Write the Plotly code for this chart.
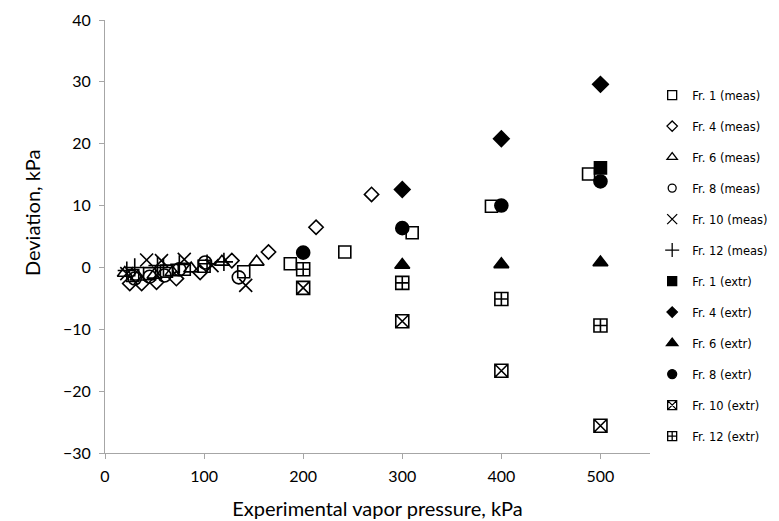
import plotly.graph_objects as go

# ---- data ----
fr1_meas_x = [28, 45, 62, 80, 100, 140, 187, 242, 310, 390, 488]
fr1_meas_y = [-1.3, -1.0, -0.6, -0.3, 0.2, -0.7, 0.6, 2.5, 5.6, 9.9, 15.1]
fr4_meas_x = [25, 37, 52, 72, 96, 128, 165, 213, 269]
fr4_meas_y = [-2.6, -2.6, -2.4, -1.8, -0.8, 1.1, 2.5, 6.5, 11.8]
fr6_meas_x = [20, 33, 50, 68, 87, 118, 153]
fr6_meas_y = [-0.9, -1.5, -1.2, -0.8, -0.2, 0.9, 0.9]
fr8_meas_x = [30, 45, 60, 75, 101, 135]
fr8_meas_y = [-1.8, -1.5, -1.3, -0.3, 0.8, -1.6]
fr10_meas_x = [22, 42, 57, 80, 108, 142]
fr10_meas_y = [-1.0, 1.2, 1.1, 1.3, 0.3, -2.9]
fr12_meas_x = [22, 30, 53, 59, 75, 103, 120]
fr12_meas_y = [-0.5, 0.0, 0.3, 0.0, 0.5, 0.6, 0.9]

fr1_extr_x = [500]
fr1_extr_y = [16.1]
fr4_extr_x = [300, 400, 500]
fr4_extr_y = [12.6, 20.8, 29.6]
fr6_extr_x = [300, 400, 500]
fr6_extr_y = [0.4, 0.5, 0.8]
fr8_extr_x = [200, 300, 400, 500]
fr8_extr_y = [2.4, 6.35, 10.0, 13.9]
fr10_extr_x = [200, 300, 400, 500]
fr10_extr_y = [-3.3, -8.7, -16.7, -25.6]
fr12_extr_x = [200, 300, 400, 500]
fr12_extr_y = [-0.3, -2.5, -5.1, -9.4]

names = ["Fr. 1 (meas)", "Fr. 4 (meas)", "Fr. 6 (meas)", "Fr. 8 (meas)",
         "Fr. 10 (meas)", "Fr. 12 (meas)", "Fr. 1 (extr)", "Fr. 4 (extr)",
         "Fr. 6 (extr)", "Fr. 8 (extr)", "Fr. 10 (extr)", "Fr. 12 (extr)"]

series = [
    (fr1_meas_x, fr1_meas_y, "square-open", 12, 9),
    (fr4_meas_x, fr4_meas_y, "diamond-open", 11, 8),
    (fr6_meas_x, fr6_meas_y, "triangle-up-open", 13, 9),
    (fr8_meas_x, fr8_meas_y, "circle-open", 13, 8),
    (fr10_meas_x, fr10_meas_y, "x-thin-open", 13, 10),
    (fr12_meas_x, fr12_meas_y, "cross-thin-open", 13, 10),
    (fr1_extr_x, fr1_extr_y, "square", 12, 9),
    (fr4_extr_x, fr4_extr_y, "diamond", 12, 8),
    (fr6_extr_x, fr6_extr_y, "triangle-up", 13, 10),
    (fr8_extr_x, fr8_extr_y, "circle", 13, 9),
    (fr10_extr_x, fr10_extr_y, "square-x-open", 13, 9),
    (fr12_extr_x, fr12_extr_y, "square-cross-open", 13, 9),
]

fig = go.Figure()
for name, (xs, ys, sym, sz, lsz) in zip(names, series):
    fig.add_trace(go.Scatter(
        x=xs, y=ys, mode="markers", name=name, showlegend=False,
        marker=dict(symbol=sym, size=sz, color="black",
                    line=dict(color="black", width=1.6)),
    ))
for i, (name, (xs, ys, sym, sz, lsz)) in enumerate(zip(names, series)):
    fig.add_trace(go.Scatter(
        x=[None], y=[None], mode="markers", name=name, showlegend=True,
        legendgroup="g%d" % i,
        marker=dict(symbol=sym, size=lsz, color="black",
                    line=dict(color="black", width=1.3)),
    ))

axis_common = dict(
    showgrid=False, zeroline=False, showline=True, linecolor="#a6a6a6",
    linewidth=1, ticks="outside", tickcolor="#a6a6a6", ticklen=5,
    tickfont=dict(family="Lato, Open Sans, sans-serif", size=16, color="black"),
)

title_font = dict(family="Lato, Open Sans, sans-serif", size=20, color="black")

fig.update_layout(
    width=771, height=513,
    margin=dict(l=97, r=129, t=12, b=68, autoexpand=False),
    paper_bgcolor="white", plot_bgcolor="white",
    xaxis=dict(range=[0, 550], dtick=100, tick0=0, ticklabelstandoff=4,
               title=dict(text="Experimental vapor pressure, kPa",
                          font=title_font, standoff=17),
               **axis_common),
    yaxis=dict(range=[-30, 40], dtick=10, tick0=0, ticklabelstandoff=5,
               **axis_common),
    legend=dict(x=1.004, xanchor="left", y=0.86, yanchor="top",
                font=dict(family="DejaVu Sans, sans-serif", size=11.5, color="black"),
                tracegroupgap=12, bgcolor="rgba(0,0,0,0)", itemwidth=30),
    annotations=[dict(text="Deviation, kPa", textangle=-90, showarrow=False,
                      xref="paper", yref="paper", x=-0.135, y=0.555,
                      xanchor="center", yanchor="middle", font=title_font)],
)

fig.write_html("out.html")
